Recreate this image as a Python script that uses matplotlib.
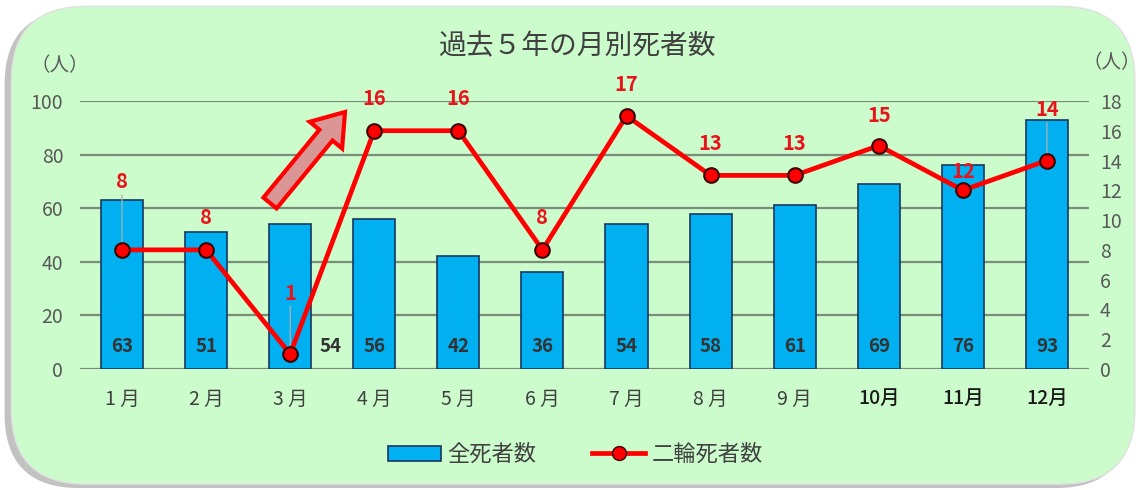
import matplotlib
matplotlib.use('Agg')
import matplotlib.pyplot as plt
from matplotlib.patches import FancyBboxPatch, FancyArrow
from matplotlib.lines import Line2D
from matplotlib.patches import Patch

plt.rcParams['font.family'] = ['Noto Sans CJK JP', 'DejaVu Sans']

months = ['1 月', '2 月', '3 月', '4 月', '5 月', '6 月',
          '7 月', '8 月', '9 月', '10月', '11月', '12月']
all_deaths = [63, 51, 54, 56, 42, 36, 54, 58, 61, 69, 76, 93]
bike_deaths = [8, 8, 1, 16, 16, 8, 17, 13, 13, 15, 12, 14]

# label offsets (pixels) for the red labels, and whether a leader line is drawn
red_dy = [68, 32, 61, 32, 32, 32, 31, 32, 32, 30, 19, 51]
red_lead = [True, False, True, False, False, False, False, False, False, False, True, True]
bar_dx = [0, 0, 40, 0, 0, 0, 0, 0, 0, 0, 0, 0]

txt = '#404040'
fig = plt.figure(figsize=(11.44, 4.9), dpi=100)
fig.patch.set_facecolor('white')

# rounded green panel with shadow
shadow = FancyBboxPatch((0.004, 0.004), 0.984, 0.975, transform=fig.transFigure,
                        boxstyle='round,pad=0,rounding_size=0.065',
                        facecolor='#9a9a9a', edgecolor='none', alpha=0.6, zorder=-11,
                        mutation_aspect=1144 / 490)
panel = FancyBboxPatch((0.010, 0.012), 0.982, 0.975, transform=fig.transFigure,
                       boxstyle='round,pad=0,rounding_size=0.065',
                       facecolor='#ccfccc', edgecolor='#e0e0e0', lw=1, zorder=-10,
                       mutation_aspect=1144 / 490)
fig.patches.extend([shadow, panel])

ax = fig.add_axes([0.0699, 0.247, 0.882, 0.547])
ax.set_facecolor('none')
ax2 = ax.twinx()

x = list(range(len(months)))
ax.bar(x, all_deaths, width=0.5, color='#00b0f0', edgecolor='#17375e', lw=1.2, zorder=2)
ax.set_xlim(-0.5, 11.5)
ax.set_ylim(0, 100)
ax.set_yticks(range(0, 101, 20))
ax.grid(axis='y', color='#7a8c7a', lw=1.6, zorder=0)
ax.set_axisbelow(True)
for s in ax.spines.values():
    s.set_visible(False)
for s in ax2.spines.values():
    s.set_visible(False)
ax.tick_params(length=0, labelsize=14, labelcolor='#595959', pad=12)
ax.set_xticks(x)
ax.set_xticklabels(months)
for i, lab in enumerate(ax.get_xticklabels()):
    lab.set_color(txt)
    lab.set_fontsize(14)
    if i >= 9:
        lab.set_fontweight('medium')
        lab.set_color('#1a1a1a')
ax.tick_params(axis='x', pad=14)

for i, v in enumerate(all_deaths):
    ax.annotate(str(v), (i, 0), xytext=(bar_dx[i], 22), textcoords='offset pixels',
                ha='center', va='center', fontsize=13.5, fontweight='bold',
                color='#333333', zorder=5)

ax2.plot(x, bike_deaths, color='#ff0000', lw=3.4, marker='o', ms=10.5,
         mfc='#ff0000', mec='#3a0000', mew=1.5, zorder=4)
ax2.set_ylim(0, 18)
ax2.set_yticks(range(0, 19, 2))
ax2.tick_params(length=0, labelsize=14, labelcolor='#595959', pad=8)

for i, v in enumerate(bike_deaths):
    ax2.annotate(str(v), (i, v), xytext=(0, red_dy[i]), textcoords='offset pixels',
                 ha='center', va='center', fontsize=14.5, fontweight='bold',
                 color='#e8141c', zorder=6)
    if red_lead[i]:
        ax2.annotate('', (i, v), xytext=(0, red_dy[i] - 13), textcoords='offset pixels',
                     arrowprops=dict(arrowstyle='-', color='#b0b0b0', lw=0.9,
                                     shrinkA=0, shrinkB=0), zorder=3)

# big pink arrow (inches from bottom-left)
arrow = FancyArrow(2.70, 4.9 - 2.03, 0.75, 0.91,
                   width=0.17, head_width=0.42, head_length=0.30,
                   length_includes_head=True, transform=fig.dpi_scale_trans,
                   facecolor='#da9694', edgecolor='#ff0000', lw=3, zorder=10)
fig.patches.append(arrow)

fig.text(0.505, 0.905, '過去５年の月別死者数', ha='center', va='center',
         fontsize=20, color=txt)
fig.text(0.052, 0.866, '（人）', ha='center', va='center', fontsize=14, color='#595959')
fig.text(0.972, 0.872, '（人）', ha='center', va='center', fontsize=14, color='#595959')

handles = [Patch(facecolor='#00b0f0', edgecolor='#17375e', lw=1.2),
           Line2D([0], [0], color='#ff0000', lw=3.4, marker='o', ms=10,
                  mfc='#ff0000', mec='#3a0000')]
fig.legend(handles, ['全死者数', '二輪死者数'], loc='center', bbox_to_anchor=(0.503, 0.072),
           ncol=2, frameon=False, fontsize=16, labelcolor=txt, handlelength=2.4,
           columnspacing=2.5, handletextpad=0.3)

fig.savefig('out.png', dpi=100)
